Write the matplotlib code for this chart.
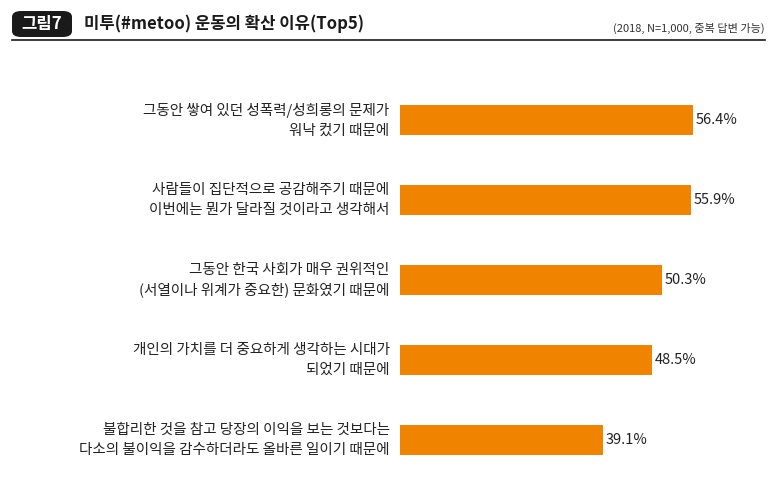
import matplotlib
matplotlib.use("Agg")
import matplotlib.pyplot as plt
from matplotlib.patches import FancyBboxPatch

plt.rcParams['font.family'] = ['Noto Sans CJK JP', 'Noto Sans CJK KR', 'Noto Sans CJK SC', 'DejaVu Sans']

categories = ["그동안 쌓여 있던 성폭력/성희롱의 문제가\n워낙 컸기 때문에",
              "사람들이 집단적으로 공감해주기 때문에\n이번에는 뭔가 달라질 것이라고 생각해서",
              "그동안 한국 사회가 매우 권위적인\n(서열이나 위계가 중요한) 문화였기 때문에",
              "개인의 가치를 더 중요하게 생각하는 시대가\n되었기 때문에",
              "불합리한 것을 참고 당장의 이익을 보는 것보다는\n다소의 불이익을 감수하더라도 올바른 일이기 때문에"]
values = [56.4, 55.9, 50.3, 48.5, 39.1]
labels = ["56.4%", "55.9%", "50.3%", "48.5%", "39.1%"]

W, H = 773, 498
fig = plt.figure(figsize=(W/100, H/100), dpi=100)
ax = fig.add_axes([400/W, 1-480/H, 373/W, 400/H])
ys = list(range(len(values)))
ax.barh(ys, values, height=0.38, color="#F08300")
ax.set_ylim(4.5, -0.5)
ax.set_xlim(0, 373/5.2)
ax.axis('off')
for y, v, l, c in zip(ys, values, labels, categories):
    ax.text(v + 0.5, y, l, va='center', ha='left', fontsize=10.5, color='#222')
    ax.text(-2.0, y, c, va='center', ha='right', fontsize=10.5, color='#222', linespacing=1.5)

box = FancyBboxPatch((12/W, 1-37/H), 60/W, 26/H, boxstyle="round,pad=0,rounding_size=0.012",
                     transform=fig.transFigure, facecolor='#1a1a1a', edgecolor='none')
fig.patches.append(box)
fig.text(42/W, 1-24/H, "그림7", ha='center', va='center', color='white', fontsize=12, fontweight='bold')
fig.text(84/W, 1-24/H, "미투(#metoo) 운동의 확산 이유(Top5)", ha='left', va='center', fontsize=12, fontweight='bold', color='#1a1a1a')
fig.text(765/W, 1-28/H, "(2018, N=1,000, 중복 답변 가능)", ha='right', va='center', fontsize=8, color='#333')
fig.add_artist(plt.Line2D([12/W, 765/W], [1-40/H, 1-40/H], color='#1a1a1a', lw=1.2))

fig.savefig("out.png", dpi=100)
